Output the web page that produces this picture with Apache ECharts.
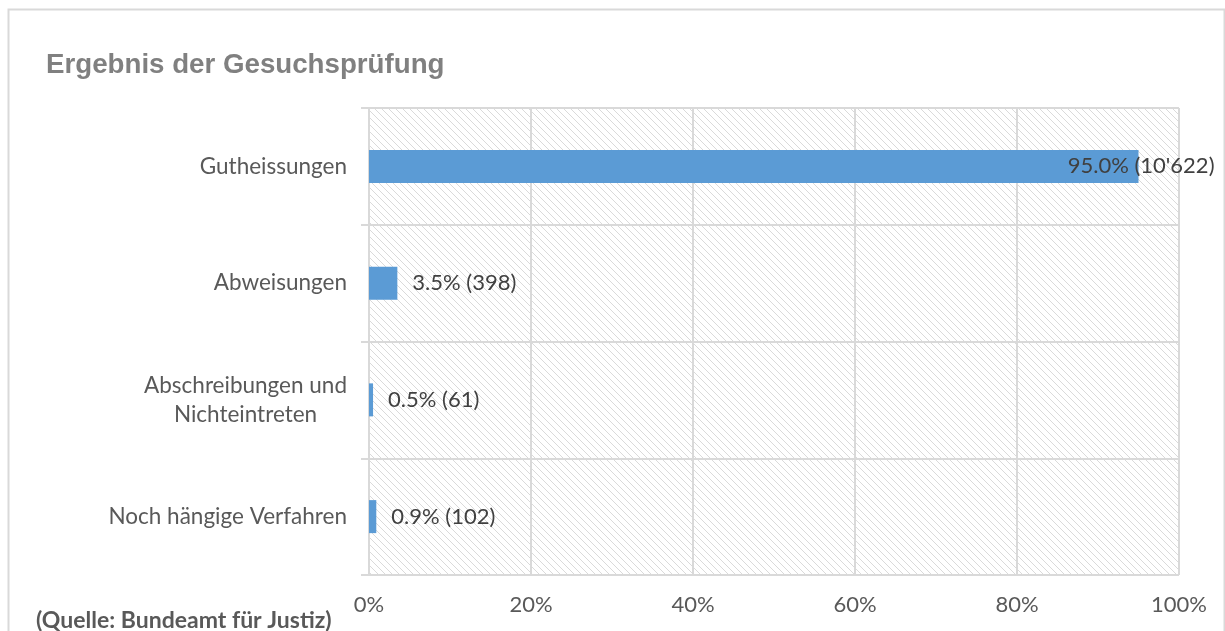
<!DOCTYPE html>
<html>
<head>
<meta charset="utf-8">
<script src="https://cdn.jsdelivr.net/npm/echarts@6/dist/echarts.min.js"></script>
<style>
html,body{margin:0;padding:0;background:#fff;}
#chart{width:1225px;height:631px;}
</style>
</head>
<body>
<div id="chart"></div>
<script>
const categories = ['Gutheissungen', 'Abweisungen', 'Abschreibungen und\nNichteintreten', 'Noch hängige Verfahren'];
const percentValues = [95.0, 3.5, 0.5, 0.9];
const countValues = [10622, 398, 61, 102];
const xTickValues = [0, 20, 40, 60, 80, 100];
const titleText = 'Ergebnis der Gesuchsprüfung';
const sourceText = '(Quelle: Bundeamt für Justiz)';

function fmtCount(n) {
  return String(n).replace(/\B(?=(\d{3})+(?!\d))/g, "'");
}

// hatch pattern
const T = 7;
const tile = document.createElement('canvas');
tile.width = T; tile.height = T;
const ctx = tile.getContext('2d');
ctx.fillStyle = '#ffffff';
ctx.fillRect(0, 0, T, T);
ctx.strokeStyle = '#dadada';
ctx.lineWidth = 1;
ctx.beginPath();
ctx.moveTo(-1, -1); ctx.lineTo(T + 1, T + 1);
ctx.moveTo(-T - 1, -1); ctx.lineTo(1, T + 1);
ctx.moveTo(T - 1, -1); ctx.lineTo(2 * T + 1, T + 1);
ctx.stroke();

const seriesData = percentValues.map((v, i) => {
  const d = { value: v };
  if (v > 80) {
    d.label = { position: 'insideRight', distance: 0, offset: [76, 0] };
  }
  return d;
});

const chart = echarts.init(document.getElementById('chart'), null, { renderer: 'canvas' });
chart.setOption({
  animation: false,
  backgroundColor: '#ffffff',
  title: {
    text: titleText,
    left: 46,
    top: 51,
    padding: 0,
    textStyle: { fontFamily: 'Liberation Sans, Arial, sans-serif', fontWeight: 'bold', fontSize: 27.7, color: '#808080' }
  },
  graphic: [
    { type: 'rect', left: 6, top: 7, shape: { width: 1216, height: 700 }, style: { fill: 'none', stroke: '#d9d9d9', lineWidth: 2 }, silent: true, z: -1 },
    { type: 'text', left: 36, top: 609, style: { text: sourceText, font: 'bold 23px Lato, sans-serif', fill: '#595959' } }
  ],
  grid: {
    left: 369, right: 46, top: 108, bottom: 56,
    show: true,
    backgroundColor: { image: tile, repeat: 'repeat' },
    borderWidth: 0
  },
  xAxis: {
    type: 'value',
    min: 0, max: 100, interval: 20,
    axisLine: { show: false },
    axisTick: { show: false },
    splitLine: { show: true, lineStyle: { color: '#d9d9d9', width: 2 } },
    axisLabel: {
      margin: 19,
      fontFamily: 'Lato, sans-serif', fontSize: 22, color: '#595959',
      formatter: v => v + '%'
    }
  },
  yAxis: {
    type: 'category',
    data: categories,
    inverse: true,
    axisLine: { show: true, lineStyle: { color: '#d9d9d9', width: 2 } },
    axisTick: { show: true, length: 8, lineStyle: { color: '#d9d9d9', width: 2 } },
    splitLine: { show: true, lineStyle: { color: '#d9d9d9', width: 2 } },
    axisLabel: {
      margin: 22,
      fontFamily: 'Lato, sans-serif', fontSize: 22, color: '#595959',
      lineHeight: 29,
      formatter: v => v.split('\n').map(s => '{c|' + s + '}').join('\n'),
      rich: { c: { align: 'center', fontFamily: 'Lato, sans-serif', fontSize: 22.5, color: '#595959', lineHeight: 29 } }
    }
  },
  series: [{
    type: 'bar',
    data: seriesData,
    barWidth: 33,
    itemStyle: { color: '#5b9bd5' },
    label: {
      show: true,
      position: 'right',
      distance: 15,
      fontFamily: 'Lato, sans-serif', fontSize: 22, color: '#404040',
      formatter: p => percentValues[p.dataIndex].toFixed(1) + '% (' + fmtCount(countValues[p.dataIndex]) + ')'
    }
  }]
});
</script>
</body>
</html>
